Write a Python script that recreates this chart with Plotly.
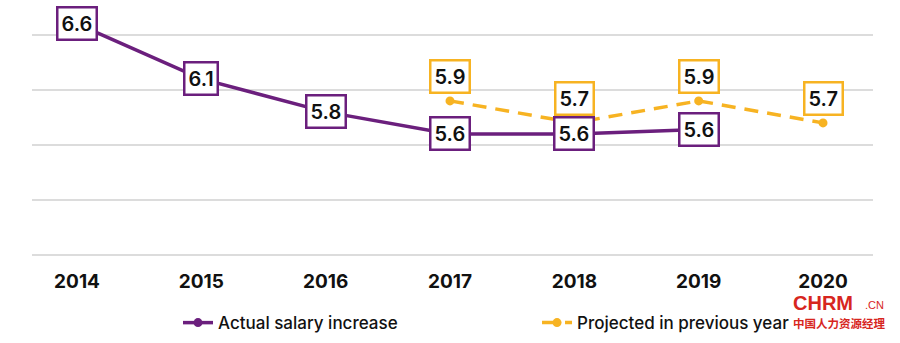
import plotly.graph_objects as go

years = [2014, 2015, 2016, 2017, 2018, 2019, 2020]
actual_years = [2014, 2015, 2016, 2017, 2018, 2019]
actual_values = [6.6, 6.1, 5.8, 5.6, 5.6, 5.64]
actual_labels = ["6.6", "6.1", "5.8", "5.6", "5.6", "5.6"]
proj_years = [2017, 2018, 2019, 2020]
proj_values = [5.9, 5.7, 5.9, 5.7]
proj_labels = ["5.9", "5.7", "5.9", "5.7"]

PURPLE = "#6B1F7D"
ORANGE = "#F7B322"
FONT = "Inter"
RED = "#D7261E"

fig = go.Figure()
fig.add_trace(go.Scatter(
    x=proj_years, y=proj_values, mode="lines+markers",
    name="Projected in previous year", legend="legend2",
    line=dict(color=ORANGE, width=3.5, dash="14px,9px"),
    marker=dict(color=ORANGE, size=9),
))
fig.add_trace(go.Scatter(
    x=actual_years, y=actual_values, mode="lines+markers",
    name="Actual salary increase", legend="legend",
    line=dict(color=PURPLE, width=3.5),
    marker=dict(color=PURPLE, size=9),
))

annotations = []
for x, y, t in zip(proj_years, proj_values, proj_labels):
    annotations.append(dict(x=x, y=y, text=t, showarrow=False, yshift=24,
                            font=dict(family=FONT, size=20, color="#111", weight=600),
                            bgcolor="white", bordercolor=ORANGE, borderwidth=2.5, borderpad=3))
for x, y, t in zip(actual_years, actual_values, actual_labels):
    annotations.append(dict(x=x, y=y, text=t, showarrow=False,
                            font=dict(family=FONT, size=20, color="#111", weight=600),
                            bgcolor="white", bordercolor=PURPLE, borderwidth=2.5, borderpad=3))

# watermark
annotations.append(dict(xref="paper", yref="paper", x=0.903, y=-0.182, xanchor="left", yanchor="middle",
                        text="<b>CHRM</b>", showarrow=False,
                        font=dict(family="Liberation Sans", size=20, color=RED)))
annotations.append(dict(xref="paper", yref="paper", x=0.988, y=-0.19, xanchor="left", yanchor="middle",
                        text=".CN", showarrow=False,
                        font=dict(family="Liberation Sans", size=11, color=RED)))
annotations.append(dict(xref="paper", yref="paper", x=0.903, y=-0.262, xanchor="left", yanchor="middle",
                        text="中国人力资源经理", showarrow=False,
                        font=dict(family="Noto Sans CJK SC", size=11.5, color=RED, weight=700)))

legend_font = dict(family=FONT, size=17, color="#111", weight=500)
fig.update_layout(
    width=900, height=343,
    margin=dict(l=32, r=27, t=0, b=87),
    paper_bgcolor="white", plot_bgcolor="white",
    showlegend=True,
    legend=dict(orientation="h", x=0.1736, y=-0.262, xanchor="left", yanchor="middle",
                font=legend_font, bgcolor="rgba(0,0,0,0)"),
    legend2=dict(orientation="h", x=0.6005, y=-0.262, xanchor="left", yanchor="middle",
                 font=legend_font, bgcolor="rgba(0,0,0,0)"),
    xaxis=dict(range=[2013.638, 2020.402], tickvals=years, ticktext=[str(y) for y in years],
               showgrid=False, zeroline=False, showline=False,
               ticks="outside", ticklen=8, tickcolor="rgba(0,0,0,0)",
               tickfont=dict(family=FONT, size=19, color="#111", weight=700)),
    yaxis=dict(range=[4.49, 6.817], tick0=4.5, dtick=0.5, showticklabels=False,
               showgrid=True, gridcolor="#DCDCDC", gridwidth=1.5, zeroline=False, showline=False),
    annotations=annotations,
)

fig.write_html("out.html")
